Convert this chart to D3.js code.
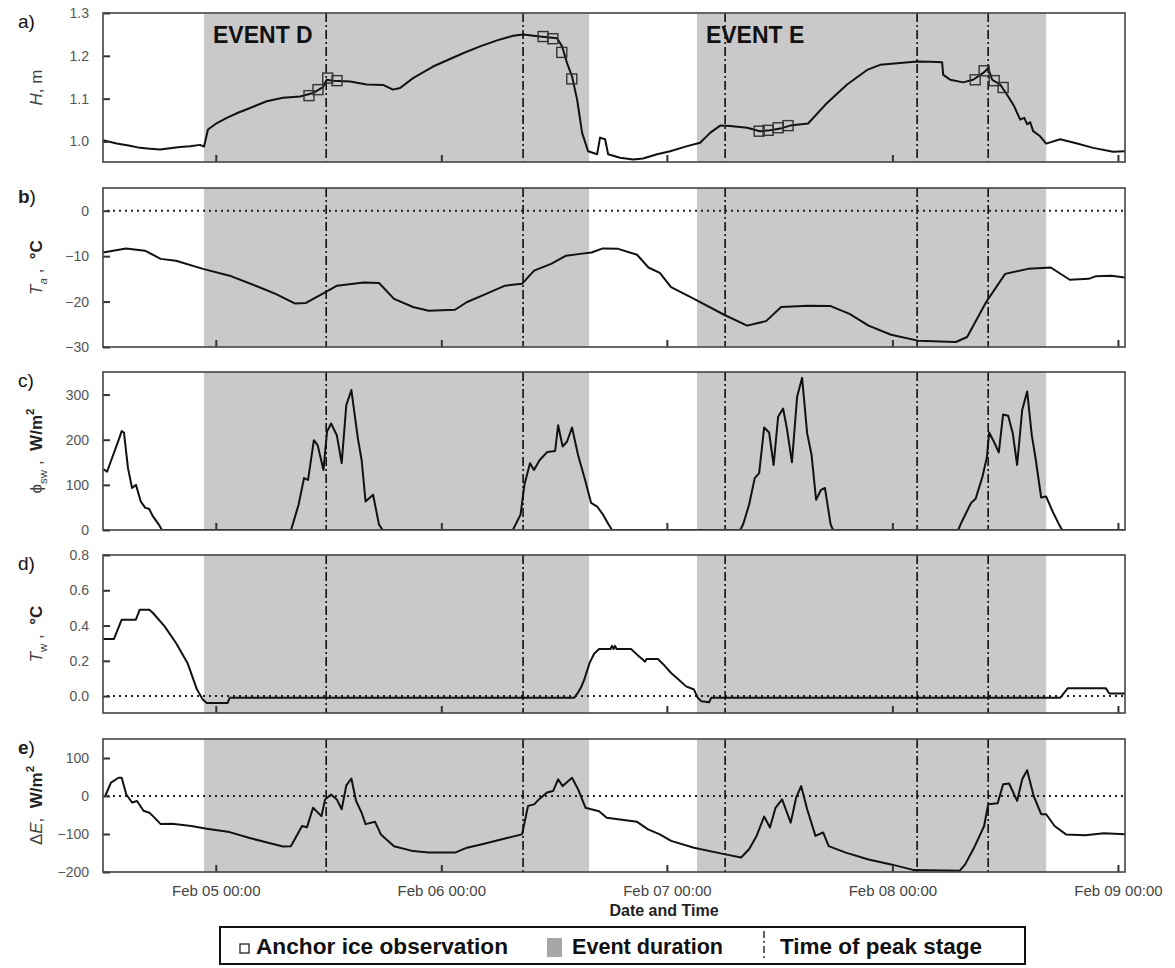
<!DOCTYPE html>
<html>
<head>
<meta charset="utf-8">
<script src="https://cdn.jsdelivr.net/npm/d3@7"></script>
<style>
  body { margin: 0; background: #fff; }
  svg { display: block; font-family: Arial, "Liberation Sans", sans-serif; }
</style>
</head>
<body>
<svg id="chart" width="1175" height="968"></svg>
<script>
// Times are hours after Feb 04 00:00.
const eventNames = ["EVENT D", "EVENT E"];
const eventStart = [22.75, 75.2];
const eventEnd = [63.72, 112.36];
const peakTimes = [35.75, 56.7, 78.2, 98.63, 106.19];

// a) stage H, m
const stage = [
  [12.0,1.003],[13.46,0.995],[14.87,0.990],[15.94,0.985],[17.0,0.983],[18.07,0.981],[19.13,0.984],
  [20.19,0.987],[21.26,0.989],[22.32,0.992],[22.75,0.988],[23.17,1.028],[24.13,1.043],[25.17,1.055],
  [26.37,1.067],[27.65,1.078],[29.42,1.094],[31.16,1.102],[32.97,1.105],[34.35,1.113],[35.41,1.127],
  [35.81,1.144],[36.48,1.142],[38.29,1.140],[40.07,1.133],[41.80,1.132],[42.86,1.121],[43.61,1.125],
  [44.99,1.148],[47.12,1.175],[50.31,1.206],[52.12,1.222],[53.93,1.236],[55.64,1.247],[56.70,1.250],
  [58.51,1.245],[60.32,1.241],[60.85,1.222],[61.38,1.183],[61.91,1.152],[62.45,1.098],[62.98,1.020],
  [63.62,0.977],[64.58,0.970],[64.89,1.009],[65.43,1.005],[65.75,0.970],[67.02,0.962],[68.41,0.958],
  [69.47,0.960],[70.96,0.970],[72.35,0.977],[74.16,0.989],[75.54,0.997],[76.60,1.020],[77.67,1.037],
  [78.73,1.036],[80.54,1.032],[81.92,1.024],[82.99,1.026],[84.05,1.030],[85.12,1.037],[87.03,1.042],
  [89.05,1.090],[91.18,1.133],[93.31,1.167],[94.69,1.179],[96.82,1.183],[98.63,1.187],[100.02,1.186],
  [101.29,1.185],[101.40,1.156],[102.15,1.144],[103.53,1.138],[104.59,1.144],[105.66,1.160],[106.19,1.171],
  [106.62,1.144],[107.47,1.133],[108.32,1.105],[108.96,1.082],[109.60,1.051],[110.03,1.055],[110.34,1.040],
  [110.66,1.045],[110.98,1.024],[111.72,1.012],[112.36,0.995],[113.85,1.005],[115.66,0.995],[117.36,0.985],
  [119.49,0.976],[120.77,0.977]
];
// a) anchor ice observations
const anchorIce = [
  [33.92,1.107],[34.88,1.121],[35.91,1.148],[36.90,1.142],
  [58.83,1.245],[59.86,1.240],[60.82,1.208],[61.88,1.146],
  [81.82,1.024],[82.77,1.026],[83.84,1.032],[84.90,1.037],
  [104.81,1.144],[105.76,1.165],[106.83,1.142],[107.78,1.126]
];
// b) air temperature, °C
const airTemp = [
  [12.0,-9.2],[14.45,-8.3],[16.47,-8.8],[18.14,-10.6],[19.77,-11.0],[22.64,-12.8],[25.47,-14.3],
  [28.71,-16.9],[30.36,-18.3],[32.40,-20.4],[33.60,-20.3],[35.63,-18.0],[36.90,-16.5],[39.74,-15.8],
  [41.37,-15.9],[42.97,-19.4],[44.99,-21.2],[46.65,-22.0],[49.46,-21.8],[50.74,-20.1],[52.34,-18.7],
  [54.78,-16.5],[56.59,-16.1],[57.87,-13.2],[59.68,-11.7],[61.28,-9.9],[62.77,-9.5],[63.98,-9.2],
  [65.19,-8.3],[66.81,-8.4],[68.83,-9.7],[70.04,-12.5],[71.25,-13.7],[72.45,-16.8],[74.89,-19.4],
  [78.09,-22.9],[80.54,-25.3],[82.56,-24.3],[84.16,-21.2],[87.0,-20.9],[89.43,-21.0],[91.44,-22.7],
  [93.46,-25.3],[95.86,-27.3],[98.71,-28.6],[102.75,-28.9],[103.95,-27.8],[105.98,-20.1],[108.0,-13.9],
  [110.45,-12.8],[112.85,-12.5],[114.87,-15.2],[116.88,-15.0],[117.68,-14.4],[119.28,-14.3],[120.77,-14.7]
];
// c) shortwave radiation, W/m2
const shortwave = [
  [12.03,135],[12.43,129],[13.66,199],[13.99,219],[14.23,216],[14.66,137],[15.09,93],[15.51,100],
  [16.02,63],[16.51,49],[16.90,47],[17.32,30],[17.94,12],[18.28,0],
  [32.01,0],[32.81,56],[33.39,115],[33.82,111],[34.44,199],[34.84,188],[35.46,133],[35.84,218],
  [36.27,236],[36.88,210],[37.40,148],[37.89,277],[38.43,310],[39.12,203],[39.52,155],[39.94,63],
  [40.74,78],[41.37,12],[41.77,0],
  [55.61,0],[56.43,34],[56.84,100],[57.44,148],[57.86,133],[58.47,155],[59.29,173],[60.11,175],
  [60.43,232],[60.91,185],[61.38,196],[61.91,227],[62.55,166],[63.35,107],[63.94,60],[64.58,52],
  [65.21,34],[65.80,12],[66.17,0],
  [79.79,0],[80.11,12],[80.75,56],[81.35,115],[81.82,126],[82.35,227],[82.88,216],[83.36,144],
  [83.84,251],[84.37,269],[84.77,225],[85.31,150],[85.86,295],[86.39,337],[86.93,214],[87.40,166],
  [87.88,67],[88.41,89],[88.82,93],[89.43,12],[89.69,0],
  [103.0,0],[103.42,20],[104.37,60],[104.85,69],[105.58,118],[106.06,162],[106.29,216],[106.79,196],
  [107.32,172],[107.78,256],[108.32,253],[108.81,214],[109.27,144],[109.81,266],[110.34,307],[110.83,210],
  [111.23,159],[111.83,72],[112.36,74],[113.05,41],[113.74,12],[114.06,0],[120.77,0]
];
// d) water temperature, °C
const waterTemp = [
  [12.03,0.324],[13.17,0.324],[13.99,0.433],[15.50,0.433],[15.91,0.49],[16.93,0.49],[17.32,0.471],
  [18.56,0.395],[19.77,0.301],[20.99,0.188],[22.0,0.037],[22.62,-0.02],[23.04,-0.039],[25.27,-0.039],
  [25.47,-0.01],[62.13,-0.01],[62.55,0.02],[62.87,0.05],[63.19,0.09],[63.78,0.188],[64.26,0.24],
  [64.79,0.267],[66.0,0.267],[66.17,0.285],[66.33,0.267],[66.49,0.285],[66.65,0.267],[68.19,0.267],
  [68.83,0.235],[69.43,0.207],[69.68,0.195],[69.83,0.21],[71.05,0.21],[71.66,0.178],[72.45,0.131],
  [73.27,0.093],[74.05,0.055],[74.89,0.037],[75.29,-0.01],[75.69,-0.03],[76.50,-0.035],[76.71,-0.01],
  [113.85,-0.01],[114.67,0.045],[118.70,0.045],[119.07,0.015],[120.77,0.015]
];
// e) net heat flux, W/m2
const heatFlux = [
  [12.23,0],[12.85,35],[13.66,48],[13.99,48],[14.48,4],[15.09,-17],[15.62,-13],[16.31,-39],[16.93,-44],
  [17.32,-53],[18.14,-74],[19.34,-73],[21.40,-79],[23.04,-86],[25.47,-95],[27.52,-110],[29.56,-123],
  [31.16,-133],[31.99,-132],[33.18,-79],[33.71,-82],[34.35,-31],[35.25,-53],[35.63,-9],[36.27,4],
  [36.88,-9],[37.40,-35],[37.89,28],[38.43,46],[38.93,-13],[39.52,-44],[39.94,-74],[40.95,-68],
  [41.57,-101],[42.97,-132],[44.99,-145],[46.65,-149],[49.46,-149],[50.74,-136],[52.34,-127],
  [54.78,-112],[56.59,-101],[57.23,-26],[57.87,-22],[58.47,-7],[59.25,9],[59.89,13],[60.43,44],
  [60.91,26],[61.91,48],[62.55,18],[63.35,-31],[63.94,-35],[64.79,-40],[65.60,-57],[68.83,-68],
  [70.0,-88],[71.25,-101],[72.45,-118],[74.89,-136],[78.09,-153],[79.90,-162],[80.75,-140],[81.55,-105],
  [82.35,-54],[82.97,-83],[83.56,-31],[84.26,-9],[85.18,-70],[85.76,-4],[86.29,26],[86.93,-35],
  [87.81,-105],[88.63,-96],[89.22,-132],[91.04,-149],[93.46,-167],[95.86,-180],[98.31,-195],
  [103.15,-197],[103.74,-180],[104.77,-132],[105.76,-79],[106.19,-22],[107.20,-19],[107.78,31],
  [108.42,33],[109.27,-13],[109.81,44],[110.34,68],[111.03,0],[111.83,-48],[112.36,-48],[113.26,-79],
  [114.47,-101],[116.51,-103],[118.51,-98],[120.77,-101]
];

const stageTicks = [1.0, 1.1, 1.2, 1.3];
const airTicks = [-30, -20, -10, 0];
const swTicks = [0, 100, 200, 300];
const waterTicks = [0, 0.2, 0.4, 0.6, 0.8];
const fluxTicks = [-200, -100, 0, 100];

const base = new Date(2011, 1, 4, 0, 0);
const toDate = h => new Date(base.getTime() + h * 3600e3);

const svg = d3.select("#chart");
const X0 = 103, X1 = 1125;
const x = d3.scaleTime().domain([toDate(12), toDate(120.75)]).range([X0, X1]);

const panels = [
  { key: "a", top: 13, bottom: 162, domain: [0.952, 1.3], ticks: stageTicks, fmt: d3.format(".1f"),
    data: stage, zero: false,
    label: [{t: "a"}, {t: ")"}],
    title: [{t: "H", it: true}, {t: ", m"}] },
  { key: "b", top: 188, bottom: 347, domain: [-30, 5], ticks: airTicks, fmt: d3.format("d"),
    data: airTemp, zero: true,
    label: [{t: "b", b: true}, {t: ")"}],
    title: [{t: "T", it: true}, {t: "a", it: true, sub: true}, {t: " ,  "}, {t: "°C", b: true}] },
  { key: "c", top: 372, bottom: 530, domain: [0, 350], ticks: swTicks, fmt: d3.format("d"),
    data: shortwave, zero: false,
    label: [{t: "c"}, {t: ")"}],
    title: [{t: "ϕ"}, {t: "sw", sub: true}, {t: " ,  "}, {t: "W/m", b: true}, {t: "2", b: true, sup: true}] },
  { key: "d", top: 555, bottom: 713, domain: [-0.096, 0.8], ticks: waterTicks, fmt: d3.format(".1f"),
    data: waterTemp, zero: true,
    label: [{t: "d"}, {t: ")"}],
    title: [{t: "T", it: true}, {t: "w", sub: true}, {t: " ,  "}, {t: "°C", b: true}] },
  { key: "e", top: 739, bottom: 872, domain: [-200, 150], ticks: fluxTicks, fmt: d3.format("d"),
    data: heatFlux, zero: true,
    label: [{t: "e", b: true}, {t: ")"}],
    title: [{t: "Δ"}, {t: "E", it: true}, {t: ",  "}, {t: "W/m", b: true}, {t: "2", b: true, sup: true}] }
];

// Append styled runs; sub/superscripts shift with dy and later runs return to the baseline.
function addRuns(textSel, parts, size) {
  let shift = 0;
  parts.forEach(p => {
    const ts = textSel.append("tspan").text(p.t);
    if (p.it) ts.attr("font-style", "italic");
    if (p.b) ts.attr("font-weight", "bold").attr("fill", "#222");
    let dy = 0;
    if (p.sub) { dy = size * 0.3; ts.attr("font-size", size * 0.68); }
    if (p.sup) { dy = -size * 0.45; ts.attr("font-size", size * 0.68); }
    ts.attr("dy", dy - shift);
    shift = dy;
  });
}

panels.forEach((p, idx) => {
  const y = d3.scaleLinear().domain(p.domain).range([p.bottom, p.top]);
  const g = svg.append("g").attr("class", "panel-" + p.key);
  const clipId = "clip-" + p.key;
  svg.append("clipPath").attr("id", clipId)
    .append("rect").attr("x", X0).attr("y", p.top).attr("width", X1 - X0).attr("height", p.bottom - p.top);

  const inner = g.append("g").attr("clip-path", `url(#${clipId})`);

  // event duration shading
  inner.selectAll("rect.event").data(eventStart).join("rect")
    .attr("class", "event")
    .attr("x", d => x(toDate(d)))
    .attr("width", (d, i) => x(toDate(eventEnd[i])) - x(toDate(d)))
    .attr("y", p.top).attr("height", p.bottom - p.top)
    .attr("fill", "#c9c9c9");

  // zero reference
  if (p.zero) {
    inner.append("line")
      .attr("x1", X0 + 4).attr("x2", X1 - 2)
      .attr("y1", y(0)).attr("y2", y(0))
      .attr("stroke", "#222").attr("stroke-width", 2)
      .attr("stroke-dasharray", "2,4");
  }

  // time of peak stage
  inner.selectAll("line.peak").data(peakTimes).join("line")
    .attr("class", "peak")
    .attr("x1", d => x(toDate(d))).attr("x2", d => x(toDate(d)))
    .attr("y1", p.top).attr("y2", p.bottom)
    .attr("stroke", "#111").attr("stroke-width", 1.6)
    .attr("stroke-dasharray", "9,3,2,3");

  const line = d3.line().x(d => x(toDate(d[0]))).y(d => y(d[1]));
  inner.append("path").datum(p.data)
    .attr("d", line)
    .attr("fill", "none").attr("stroke", "#111").attr("stroke-width", 2)
    .attr("stroke-linejoin", "round");

  if (p.key === "a") {
    inner.selectAll("rect.ice").data(anchorIce).join("rect")
      .attr("class", "ice")
      .attr("x", d => x(toDate(d[0])) - 5).attr("y", d => y(d[1]) - 5)
      .attr("width", 10).attr("height", 10)
      .attr("fill", "none").attr("stroke", "#333").attr("stroke-width", 1.4);

    g.selectAll("text.event").data(eventNames).join("text")
      .attr("class", "event")
      .attr("x", (d, i) => x(toDate(eventStart[i])) + 9)
      .attr("y", 43)
      .attr("font-size", 23).attr("font-weight", "bold").attr("fill", "#111")
      .text(d => d);
  }

  // axes with inward ticks
  const xAxis = d3.axisBottom(x).ticks(d3.timeDay.every(1))
    .tickSizeInner(-7).tickSizeOuter(0).tickPadding(13)
    .tickFormat(idx === panels.length - 1 ? d3.timeFormat("%b %d %H:%M") : () => "");
  const xg = g.append("g").attr("transform", `translate(0,${p.bottom})`).call(xAxis);
  xg.select(".domain").remove();
  xg.selectAll(".tick line").attr("stroke", "#333").attr("stroke-width", 2);
  xg.selectAll(".tick text").attr("fill", "#444").attr("font-size", 15)
    .attr("font-family", "Arial, 'Liberation Sans', sans-serif");

  const yAxis = d3.axisLeft(y).tickValues(p.ticks).tickFormat(p.fmt)
    .tickSizeInner(-7).tickSizeOuter(0).tickPadding(14);
  const yg = g.append("g").attr("transform", `translate(${X0},0)`).call(yAxis);
  yg.select(".domain").remove();
  yg.selectAll(".tick line").attr("stroke", "#333").attr("stroke-width", 2);
  yg.selectAll(".tick text").attr("fill", "#555").attr("font-size", 14)
    .attr("font-family", "Arial, 'Liberation Sans', sans-serif");

  // frame
  g.append("rect")
    .attr("x", X0).attr("y", p.top).attr("width", X1 - X0).attr("height", p.bottom - p.top)
    .attr("fill", "none").attr("stroke", "#444").attr("stroke-width", 1.6);

  // panel letter
  const lab = g.append("text").attr("x", 18).attr("y", p.top + 15)
    .attr("font-size", 19).attr("fill", "#111");
  addRuns(lab, p.label, 19);

  // y title
  const cy = (p.top + p.bottom) / 2;
  const tt = g.append("text")
    .attr("transform", `translate(42,${cy}) rotate(-90)`)
    .attr("text-anchor", "middle")
    .attr("font-size", 17).attr("fill", "#444")
    .style("white-space", "pre");
  addRuns(tt, p.title, 17);
});

// x axis title
svg.append("text").attr("x", (X0 + X1) / 2 + 50).attr("y", 916)
  .attr("text-anchor", "middle").attr("font-size", 16).attr("font-weight", "bold")
  .attr("fill", "#222").text("Date and Time");

// legend
const legend = svg.append("g").attr("class", "legend");
legend.append("rect").attr("x", 220).attr("y", 927).attr("width", 805).attr("height", 37)
  .attr("fill", "#fff").attr("stroke", "#111").attr("stroke-width", 2);
legend.append("rect").attr("x", 240).attr("y", 944).attr("width", 9).attr("height", 9)
  .attr("fill", "none").attr("stroke", "#222").attr("stroke-width", 1.3);
legend.append("text").attr("x", 256).attr("y", 954).attr("font-size", 22).attr("font-weight", "bold")
  .attr("fill", "#111").attr("textLength", 252).attr("lengthAdjust", "spacingAndGlyphs")
  .text("Anchor ice observation");
legend.append("rect").attr("x", 547).attr("y", 938).attr("width", 15).attr("height", 19)
  .attr("fill", "#a6a6a6");
legend.append("text").attr("x", 572).attr("y", 954).attr("font-size", 22).attr("font-weight", "bold")
  .attr("fill", "#111").attr("textLength", 151).attr("lengthAdjust", "spacingAndGlyphs")
  .text("Event duration");
legend.append("line").attr("x1", 764).attr("x2", 764).attr("y1", 931).attr("y2", 961)
  .attr("stroke", "#111").attr("stroke-width", 1.3).attr("stroke-dasharray", "7,3,2,3");
legend.append("text").attr("x", 780).attr("y", 954).attr("font-size", 22).attr("font-weight", "bold")
  .attr("fill", "#111").attr("textLength", 202).attr("lengthAdjust", "spacingAndGlyphs")
  .text("Time of peak stage");
</script>
</body>
</html>
